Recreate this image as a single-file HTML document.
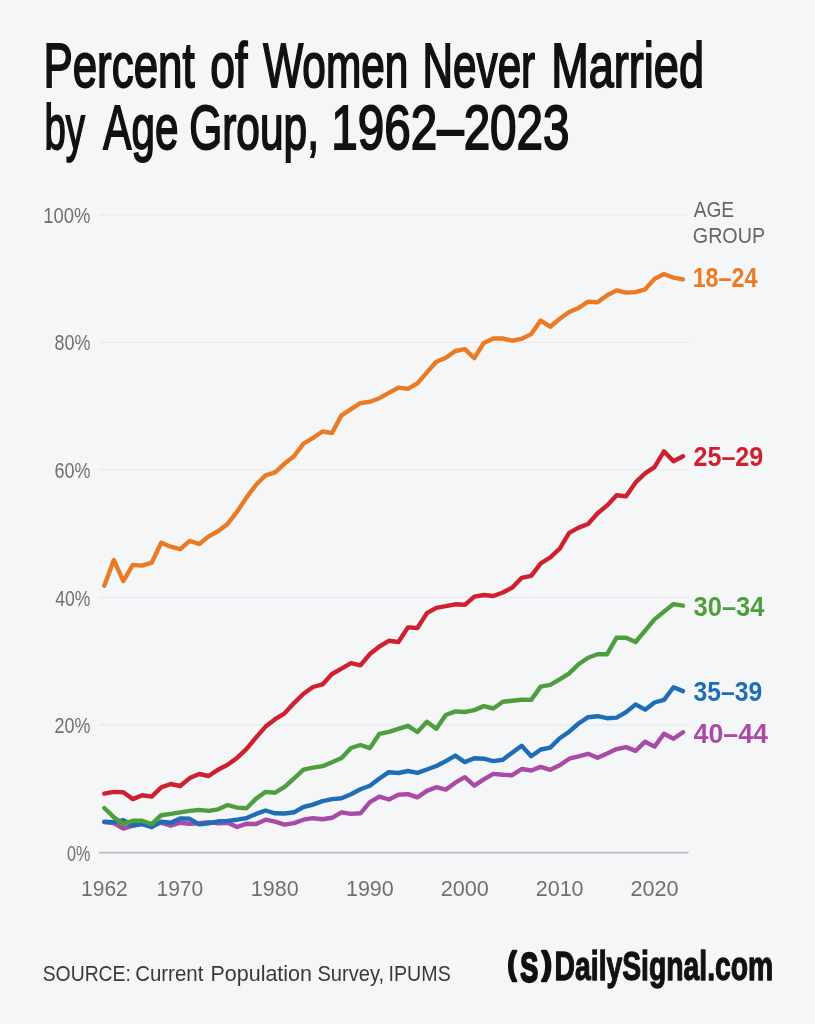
<!DOCTYPE html>
<html lang="en">
<head>
<meta charset="utf-8">
<title>Percent of Women Never Married by Age Group, 1962–2023</title>
<style>
html,body{margin:0;padding:0;background:#f4f6f8;}
body{width:815px;height:1024px;overflow:hidden;position:relative;font-family:"Liberation Sans",sans-serif;}
svg{position:absolute;left:0;top:0;display:block;}
text{font-family:"Liberation Sans",sans-serif;}
.title text{font-size:62.9px;fill:#111;stroke:#111;stroke-width:1.9px;stroke-linejoin:miter;vector-effect:non-scaling-stroke;}
.ax text{font-size:22.9px;fill:#707070;}
.hdr text{font-size:22.8px;fill:#666;}
.lab text{font-size:27px;font-weight:bold;}
.src text{font-size:22.3px;fill:#3a3a3a;}
.logo text{font-weight:bold;fill:#111;stroke:#111;stroke-width:1.3px;stroke-linejoin:round;vector-effect:non-scaling-stroke;}
.logo .pa{stroke-width:2.6px;}
.logo .es{stroke-width:2.4px;}
.grid line{stroke:#e8ebee;stroke-width:1.3;}
.grid line.zero{stroke:#b9bcbf;stroke-width:1.6;}
.series polyline{fill:none;stroke-width:4.4;stroke-linejoin:round;stroke-linecap:round;}
</style>
</head>
<body>
<svg width="815" height="1024" viewBox="0 0 815 1024">
<rect x="0" y="0" width="815" height="1024" fill="#f4f6f8"/>
<g class="title">
<text y="86.6"><tspan x="43.46" textLength="151.22" lengthAdjust="spacingAndGlyphs">Percent</tspan> <tspan x="210.23" textLength="37.14" lengthAdjust="spacingAndGlyphs">of</tspan> <tspan x="263.15" textLength="145.18" lengthAdjust="spacingAndGlyphs">Women</tspan> <tspan x="422.59" textLength="112.59" lengthAdjust="spacingAndGlyphs">Never</tspan> <tspan x="551.27" textLength="152.73" lengthAdjust="spacingAndGlyphs">Married</tspan></text>
<text y="149.3"><tspan x="44.51" textLength="40.5" lengthAdjust="spacingAndGlyphs">by</tspan> <tspan x="103.35" textLength="75.03" lengthAdjust="spacingAndGlyphs">Age</tspan> <tspan x="189.23" textLength="129.72" lengthAdjust="spacingAndGlyphs">Group,</tspan> <tspan x="331.32" textLength="238.22" lengthAdjust="spacingAndGlyphs">1962–2023</tspan></text>
</g>
<g class="grid">
<line x1="99" y1="214.8" x2="688.5" y2="214.8"/>
<line x1="99" y1="342.4" x2="688.5" y2="342.4"/>
<line x1="99" y1="469.9" x2="688.5" y2="469.9"/>
<line x1="99" y1="597.5" x2="688.5" y2="597.5"/>
<line x1="99" y1="725.0" x2="688.5" y2="725.0"/>
<line x1="99" y1="852.6" x2="688.5" y2="852.6" class="zero"/>
</g>
<g class="ax">
<text x="43.29" y="222.8" textLength="47.19" lengthAdjust="spacingAndGlyphs">100%</text>
<text x="54.52" y="350.4" textLength="35.96" lengthAdjust="spacingAndGlyphs">80%</text>
<text x="54.52" y="477.9" textLength="35.96" lengthAdjust="spacingAndGlyphs">60%</text>
<text x="55.3" y="605.5" textLength="35.17" lengthAdjust="spacingAndGlyphs">40%</text>
<text x="54.52" y="733.0" textLength="35.96" lengthAdjust="spacingAndGlyphs">20%</text>
<text x="67.1" y="860.6" textLength="23.35" lengthAdjust="spacingAndGlyphs">0%</text>
<text x="81.08" y="896.1" textLength="46.69" lengthAdjust="spacingAndGlyphs">1962</text>
<text x="156.48" y="896.1" textLength="46.69" lengthAdjust="spacingAndGlyphs">1970</text>
<text x="250.86" y="896.1" textLength="47.93" lengthAdjust="spacingAndGlyphs">1980</text>
<text x="345.96" y="896.1" textLength="47.83" lengthAdjust="spacingAndGlyphs">1990</text>
<text x="440.65" y="896.1" textLength="48.24" lengthAdjust="spacingAndGlyphs">2000</text>
<text x="535.76" y="896.1" textLength="47.83" lengthAdjust="spacingAndGlyphs">2010</text>
<text x="630.45" y="896.1" textLength="48.24" lengthAdjust="spacingAndGlyphs">2020</text>
</g>
<g class="hdr">
<text x="693.7" y="217" textLength="40.47" lengthAdjust="spacingAndGlyphs">AGE</text>
<text x="692.84" y="243" textLength="72.2" lengthAdjust="spacingAndGlyphs">GROUP</text>
</g>
<g class="series">
<polyline points="104.3,822.1 113.8,823.0 123.3,828.6 132.8,825.6 142.2,823.7 151.7,825.6 161.2,822.7 170.7,825.6 180.2,822.7 189.7,823.7 199.2,823.3 208.7,822.1 218.1,823.3 227.6,822.7 237.1,827.0 246.6,823.7 256.1,824.0 265.6,819.7 275.1,821.7 284.6,824.7 294.0,823.1 303.5,819.7 313.0,818.2 322.5,819.2 332.0,817.8 341.5,812.3 351.0,813.9 360.4,813.3 369.9,802.1 379.4,796.6 388.9,799.5 398.4,794.8 407.9,794.1 417.4,797.4 426.9,790.9 436.3,787.2 445.8,789.6 455.3,782.7 464.8,777.2 474.3,785.6 483.8,779.4 493.3,773.9 502.8,774.8 512.2,775.2 521.7,769.0 531.2,770.5 540.7,766.9 550.2,769.8 559.7,765.2 569.2,758.7 578.6,756.4 588.1,753.8 597.6,757.7 607.1,753.4 616.6,749.1 626.1,747.1 635.6,750.9 645.1,741.7 654.5,746.6 664.0,733.8 673.5,738.7 683.0,732.2" stroke="#A84AA6"/>
<polyline points="104.3,821.7 113.8,822.1 123.3,820.1 132.8,825.6 142.2,824.1 151.7,827.2 161.2,821.7 170.7,822.7 180.2,818.4 189.7,818.8 199.2,824.3 208.7,823.3 218.1,821.3 227.6,820.9 237.1,819.7 246.6,818.1 256.1,813.9 265.6,810.5 275.1,813.3 284.6,813.5 294.0,812.3 303.5,807.0 313.0,804.6 322.5,801.1 332.0,799.1 341.5,798.2 351.0,794.2 360.4,789.3 369.9,785.8 379.4,778.5 388.9,772.2 398.4,773.0 407.9,771.0 417.4,772.9 426.9,769.5 436.3,766.0 445.8,761.1 455.3,755.6 464.8,762.1 474.3,758.2 483.8,758.7 493.3,761.1 502.8,759.7 512.2,752.7 521.7,745.8 531.2,756.2 540.7,749.5 550.2,747.6 559.7,738.2 569.2,731.7 578.6,723.5 588.1,717.2 597.6,716.2 607.1,718.2 616.6,717.6 626.1,712.1 635.6,704.4 645.1,709.7 654.5,702.5 664.0,699.9 673.5,687.2 683.0,691.1" stroke="#1F6DB6"/>
<polyline points="104.3,808.0 113.8,817.2 123.3,824.1 132.8,820.7 142.2,820.7 151.7,824.1 161.2,815.2 170.7,813.9 180.2,812.3 189.7,810.9 199.2,809.9 208.7,810.9 218.1,809.3 227.6,805.0 237.1,807.6 246.6,808.3 256.1,798.6 265.6,791.9 275.1,792.7 284.6,786.8 294.0,778.5 303.5,769.7 313.0,767.7 322.5,766.2 332.0,762.2 341.5,758.0 351.0,748.0 360.4,745.0 369.9,748.1 379.4,733.8 388.9,731.8 398.4,728.8 407.9,725.8 417.4,732.0 426.9,721.8 436.3,728.7 445.8,715.0 455.3,711.4 464.8,712.0 474.3,710.1 483.8,706.1 493.3,708.5 502.8,701.8 512.2,700.8 521.7,699.7 531.2,699.9 540.7,686.6 550.2,684.8 559.7,679.3 569.2,673.4 578.6,664.2 588.1,657.7 597.6,654.2 607.1,654.2 616.6,637.7 626.1,637.7 635.6,642.0 645.1,630.6 654.5,619.4 664.0,611.6 673.5,604.1 683.0,605.7" stroke="#4E9E3F"/>
<polyline points="104.3,793.6 113.8,791.9 123.3,792.3 132.8,799.1 142.2,795.2 151.7,796.6 161.2,787.4 170.7,784.0 180.2,786.0 189.7,778.1 199.2,774.0 208.7,776.0 218.1,769.7 227.6,764.8 237.1,757.9 246.6,748.8 256.1,737.4 265.6,726.6 275.1,719.2 284.6,713.3 294.0,703.1 303.5,693.8 313.0,687.0 322.5,684.4 332.0,674.0 341.5,668.7 351.0,663.2 360.4,665.4 369.9,654.0 379.4,646.5 388.9,640.8 398.4,642.0 407.9,627.4 417.4,628.0 426.9,613.1 436.3,607.8 445.8,606.2 455.3,604.3 464.8,604.8 474.3,596.6 483.8,595.0 493.3,596.0 502.8,592.5 512.2,587.6 521.7,577.8 531.2,575.8 540.7,563.4 550.2,557.5 559.7,548.6 569.2,532.9 578.6,527.6 588.1,524.0 597.6,513.2 607.1,505.4 616.6,495.2 626.1,496.2 635.6,482.4 645.1,473.4 654.5,467.1 664.0,451.4 673.5,461.2 683.0,456.3" stroke="#CF202F"/>
<polyline points="104.3,585.8 113.8,560.0 123.3,581.1 132.8,564.9 142.2,565.6 151.7,562.7 161.2,542.8 170.7,546.7 180.2,549.2 189.7,540.9 199.2,544.0 208.7,536.4 218.1,531.3 227.6,523.9 237.1,511.7 246.6,497.4 256.1,484.7 265.6,475.3 275.1,472.4 284.6,463.6 294.0,456.3 303.5,443.6 313.0,437.9 322.5,431.5 332.0,433.0 341.5,415.3 351.0,409.2 360.4,403.1 369.9,401.8 379.4,398.2 388.9,392.8 398.4,387.6 407.9,388.8 417.4,383.4 426.9,372.4 436.3,361.8 445.8,357.7 455.3,351.0 464.8,349.1 474.3,358.2 483.8,342.9 493.3,338.5 502.8,338.5 512.2,340.7 521.7,338.8 531.2,334.1 540.7,320.6 550.2,326.7 559.7,318.7 569.2,312.0 578.6,307.9 588.1,301.7 597.6,302.2 607.1,295.3 616.6,290.4 626.1,292.6 635.6,292.1 645.1,289.4 654.5,278.9 664.0,274.0 673.5,277.7 683.0,279.4" stroke="#EB7A24"/>
</g>
<g class="lab">
<text x="692.64" y="287.3" textLength="64.88" lengthAdjust="spacingAndGlyphs" fill="#EB7A24">18–24</text>
<text x="693.5" y="465.7" textLength="69.71" lengthAdjust="spacingAndGlyphs" fill="#CF202F">25–29</text>
<text x="693.6" y="616.0" textLength="70.82" lengthAdjust="spacingAndGlyphs" fill="#4E9E3F">30–34</text>
<text x="693.6" y="701.4" textLength="68.61" lengthAdjust="spacingAndGlyphs" fill="#1F6DB6">35–39</text>
<text x="693.6" y="743.0" textLength="74.42" lengthAdjust="spacingAndGlyphs" fill="#A84AA6">40–44</text>
</g>
<g class="src">
<text y="981"><tspan x="42.63" textLength="88.31" lengthAdjust="spacingAndGlyphs">SOURCE:</tspan> <tspan x="135.18" textLength="68.18" lengthAdjust="spacingAndGlyphs">Current</tspan> <tspan x="210.44" textLength="101.61" lengthAdjust="spacingAndGlyphs">Population</tspan> <tspan x="317.4" textLength="66.68" lengthAdjust="spacingAndGlyphs">Survey,</tspan> <tspan x="388.54" textLength="62.23" lengthAdjust="spacingAndGlyphs">IPUMS</tspan></text>
</g>
<g class="logo">
<text><tspan x="507.68" textLength="8.57" lengthAdjust="spacingAndGlyphs" y="973.9" class="pa" font-size="31.4">(</tspan><tspan x="520.37" textLength="17.99" lengthAdjust="spacingAndGlyphs" y="982" class="es" font-size="42.5">S</tspan><tspan x="541.9" textLength="9.64" lengthAdjust="spacingAndGlyphs" y="973.9" class="pa" font-size="31.4">)</tspan><tspan x="554.59" textLength="218.66" lengthAdjust="spacingAndGlyphs" y="980.4" font-size="41.5">DailySignal.com</tspan></text>
</g>
</svg>
</body>
</html>
